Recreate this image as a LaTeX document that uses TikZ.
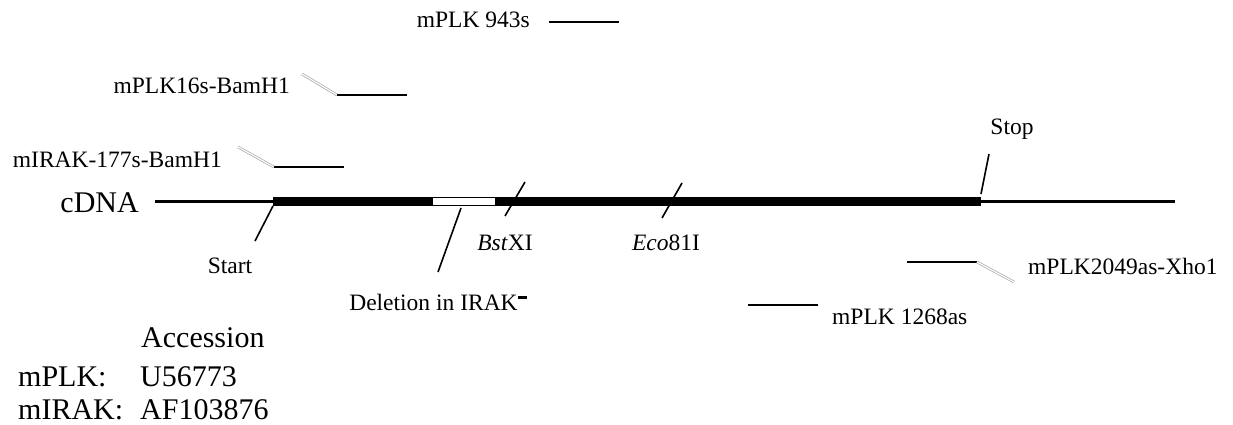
\documentclass[tikz,border=0pt]{standalone}
\usepackage{fontspec}
\setmainfont{Liberation Serif}
\begin{document}
\begin{tikzpicture}[x=1pt,y=-1pt,
  lbl/.style={font=\fontsize{23.5}{27}\selectfont, inner sep=0pt},
  big/.style={font=\fontsize{30}{34}\selectfont, inner sep=0pt},
  primer/.style={line width=2.2pt},
  tail/.style={draw=gray!70, double=white, double distance=1.2pt, line width=0.7pt},
  tick/.style={line width=1.6pt},
  thin/.style={line width=2.2pt}]
\useasboundingbox (0,0) rectangle (1233,425);
% cDNA line
\node[big, anchor=east] (cdna) at (139,203) {cDNA};
\coordinate (L0) at (155,201.5);
\coordinate (L1) at (1175,201.5);
\draw[thin] (L0) -- (L1);
% coding region
\fill (273,197) rectangle (981,205.5);
\filldraw[fill=white, draw=black, line width=0.6pt] (432,197.6) rectangle (495,204.9);
% ticks and labels
\coordinate (s0) at (273,206); \coordinate (s1) at (255,241);
\draw[tick] (s0) -- (s1);
\node[lbl] (start) at (230,266) {Start};
\coordinate (d0) at (461,208); \coordinate (d1) at (438,272);
\draw[tick] (d0) -- (d1);
\node[lbl] (del) at (438,302) {Deletion in IRAK\raisebox{11pt}{\rule{9pt}{3.5pt}}};
\coordinate (b0) at (525,182); \coordinate (b1) at (505,216);
\draw[tick] (b0) -- (b1);
\node[lbl] (bst) at (505,243) {\textit{Bst}XI};
\coordinate (e0) at (682,183); \coordinate (e1) at (662,218);
\draw[tick] (e0) -- (e1);
\node[lbl] (eco) at (666,243) {\textit{Eco}81I};
\coordinate (t0) at (989,154); \coordinate (t1) at (981,194);
\draw[tick] (t0) -- (t1);
\node[lbl] (stop) at (1012,129) {Stop};
% primers
\node[lbl, anchor=east] (p943) at (530,20) {mPLK 943s};
\coordinate (p943a) at (549,22); \coordinate (p943b) at (619,22);
\draw[primer] (p943a) -- (p943b);
\node[lbl, anchor=east] (p16) at (290,86) {mPLK16s-BamH1};
\coordinate (p16t) at (302,74); \coordinate (p16a) at (337,95); \coordinate (p16b) at (407,95);
\draw[tail] (p16t) -- (p16a);
\draw[primer] (p16a) -- (p16b);
\node[lbl, anchor=east] (p177) at (222,160) {mIRAK-177s-BamH1};
\coordinate (p177t) at (238,147); \coordinate (p177a) at (274,167); \coordinate (p177b) at (344,167);
\draw[tail] (p177t) -- (p177a);
\draw[primer] (p177a) -- (p177b);
\node[lbl, anchor=west] (p2049) at (1028,266) {mPLK2049as-Xho1};
\coordinate (p2049a) at (907,262); \coordinate (p2049b) at (977,262); \coordinate (p2049t) at (1014,282);
\draw[primer] (p2049a) -- (p2049b);
\draw[tail] (p2049b) -- (p2049t);
\node[lbl, anchor=west] (p1268) at (832,317) {mPLK 1268as};
\coordinate (p1268a) at (748,305); \coordinate (p1268b) at (818,305);
\draw[primer] (p1268a) -- (p1268b);
% accession
\node[big, anchor=base west] (acc) at (141,347) {Accession};
\node[big, anchor=base west] (k1) at (18,386) {mPLK:};
\node[big, anchor=base west] (v1) at (140,386) {U56773};
\node[big, anchor=base west] (k2) at (18,419) {mIRAK:};
\node[big, anchor=base west] (v2) at (140,419) {AF103876};
\end{tikzpicture}
\end{document}
